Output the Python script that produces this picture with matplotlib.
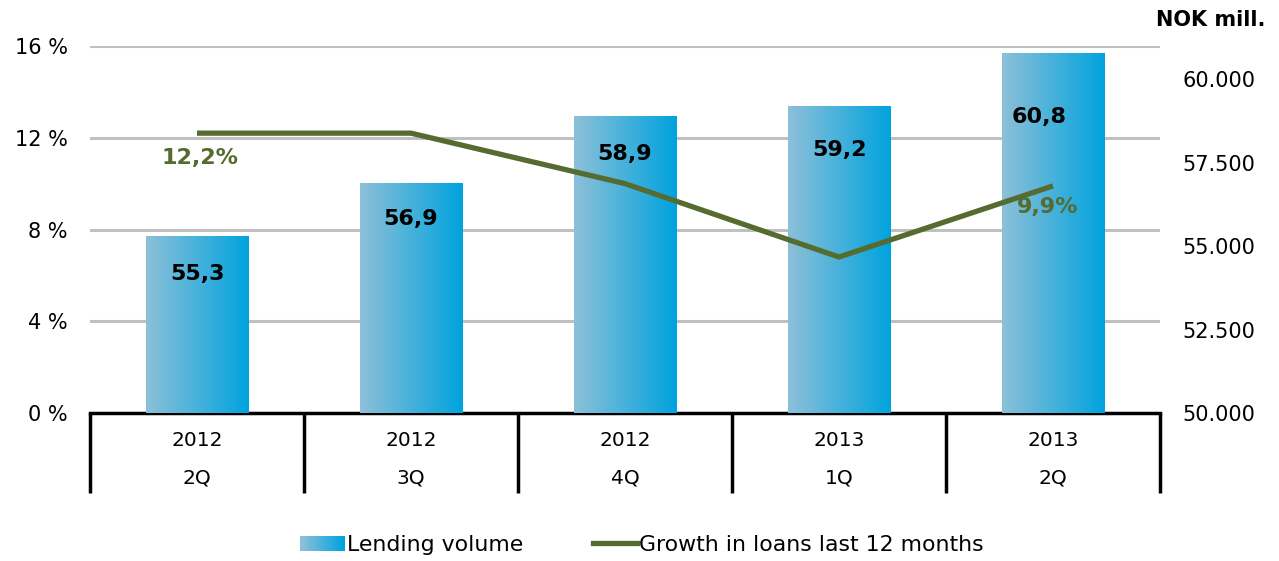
import matplotlib
matplotlib.use("Agg")
import matplotlib.pyplot as plt
import numpy as np
from matplotlib.patches import Rectangle
from matplotlib.lines import Line2D
from matplotlib.legend_handler import HandlerBase
from matplotlib.ticker import FuncFormatter
from matplotlib.colors import LinearSegmentedColormap

plt.rcParams["font.family"] = ["DejaVu Sans"]

years = ["2012", "2012", "2012", "2013", "2013"]
quarters = ["2Q", "3Q", "4Q", "1Q", "2Q"]
lending = [55300, 56900, 58900, 59200, 60800]  # NOK mill.
lending_labels = ["55,3", "56,9", "58,9", "59,2", "60,8"]
growth = [12.2, 12.2, 10.0, 6.8, 9.9]  # %
growth_labels = {0: "12,2%", 4: "9,9%"}

BAR_LEFT = "#8dc0d8"
BAR_RIGHT = "#00a3de"
LINE_COL = "#556b2f"
GRID_COL = "#c0c0c0"

cmap = LinearSegmentedColormap.from_list("bar", [BAR_LEFT, BAR_RIGHT])

fig = plt.figure(figsize=(12.79, 5.61), dpi=100)
rect = [90 / 1279, 148 / 561, 1070 / 1279, 367 / 561]

# percent axis (left) with grid
ax = fig.add_axes(rect)
ax.set_xlim(-0.5, 4.5)
ax.set_ylim(0, 16)
ax.set_yticks([0, 4, 8, 12, 16])
ax.yaxis.set_major_formatter(FuncFormatter(lambda v, p: f"{v:.0f} %"))
ax.yaxis.grid(True, color=GRID_COL, linewidth=2.2)
ax.set_axisbelow(True)
ax.tick_params(axis="y", length=0, pad=16, labelsize=15)
ax.set_xticks([])
for s in ["left", "right", "top"]:
    ax.spines[s].set_visible(False)
ax.spines["bottom"].set_linewidth(2.5)
ax.spines["bottom"].set_zorder(5)

# lending volume axis (right)
ax2 = ax.twinx()
ax2.set_ylim(50000, 61000)
ax2.set_yticks(np.arange(50000, 60001, 2500))
ax2.yaxis.set_major_formatter(FuncFormatter(lambda v, p: f"{v:,.0f}".replace(",", ".")))
ax2.tick_params(axis="y", length=0, pad=16, labelsize=15)
for s in ax2.spines.values():
    s.set_visible(False)

x = np.arange(len(lending))
width = 0.48
bars = ax2.bar(x, lending, width=width, color="none", edgecolor="none")
grad = np.linspace(0, 1, 256).reshape(1, -1)
for b in bars:
    x0 = b.get_x()
    im = ax2.imshow(grad, cmap=cmap, aspect="auto",
                    extent=[x0, x0 + b.get_width(), 50000, b.get_height()],
                    zorder=2)
    im.set_clip_path(b)
ax2.set_xlim(-0.5, 4.5)
ax2.set_ylim(50000, 61000)

label_offsets = [(0, -27), (0, -26), (0, -27), (0, -32), (-10, -46)]
for xi, v, lab, off in zip(x, lending, lending_labels, label_offsets):
    ax2.annotate(lab, (xi, v), xytext=off, textcoords="offset points",
                 ha="center", va="center", fontsize=16, fontweight="bold",
                 color="black", zorder=4)

# growth line on its own axes on top
ax3 = ax.twinx()
ax3.set_ylim(0, 16)
ax3.set_xlim(-0.5, 4.5)
ax3.axis("off")
ax3.plot(x, growth, color=LINE_COL, linewidth=3.8, solid_capstyle="butt")
ax3.annotate(growth_labels[0], (0, growth[0]), xytext=(2, -18),
             textcoords="offset points", ha="center", va="center",
             fontsize=16, fontweight="bold", color=LINE_COL)
ax3.annotate(growth_labels[4], (4, growth[4]), xytext=(-4, -15),
             textcoords="offset points", ha="center", va="center",
             fontsize=16, fontweight="bold", color=LINE_COL)

# multi-level category axis
trans = ax.get_xaxis_transform()
for b in np.arange(-0.5, 5, 1):
    ax.plot([b, b], [0, -0.218], transform=trans, color="black",
            linewidth=2.5, clip_on=False, solid_capstyle="butt")
for xi, yr, q in zip(x, years, quarters):
    ax.text(xi, -0.074, yr, transform=trans, ha="center", va="center", fontsize=14.5)
    ax.text(xi, -0.177, q, transform=trans, ha="center", va="center", fontsize=14.5)

fig.text(1265 / 1279, 1 - 20 / 561, "NOK mill.", ha="right", va="center",
         fontsize=15, fontweight="bold")


class GradientHandler(HandlerBase):
    def create_artists(self, legend, orig, xd, yd, w, h, fontsize, trans):
        n = 20
        arts = []
        for i in range(n):
            arts.append(Rectangle((xd + w * i / n, yd), w / n + 0.3, h,
                                  facecolor=cmap(i / (n - 1)), edgecolor="none",
                                  transform=trans))
        return arts


handles = [Rectangle((0, 0), 1, 1), Line2D([], [], color=LINE_COL, linewidth=3.8)]
fig.legend(handles, ["Lending volume", "Growth in loans last 12 months"],
           handler_map={Rectangle: GradientHandler()},
           loc="center", bbox_to_anchor=(0.502, 1 - 545 / 561), ncol=2,
           frameon=False, fontsize=15.8, handlelength=2.0, handletextpad=0.1,
           columnspacing=3.2)

fig.savefig("out.png", dpi=100)
